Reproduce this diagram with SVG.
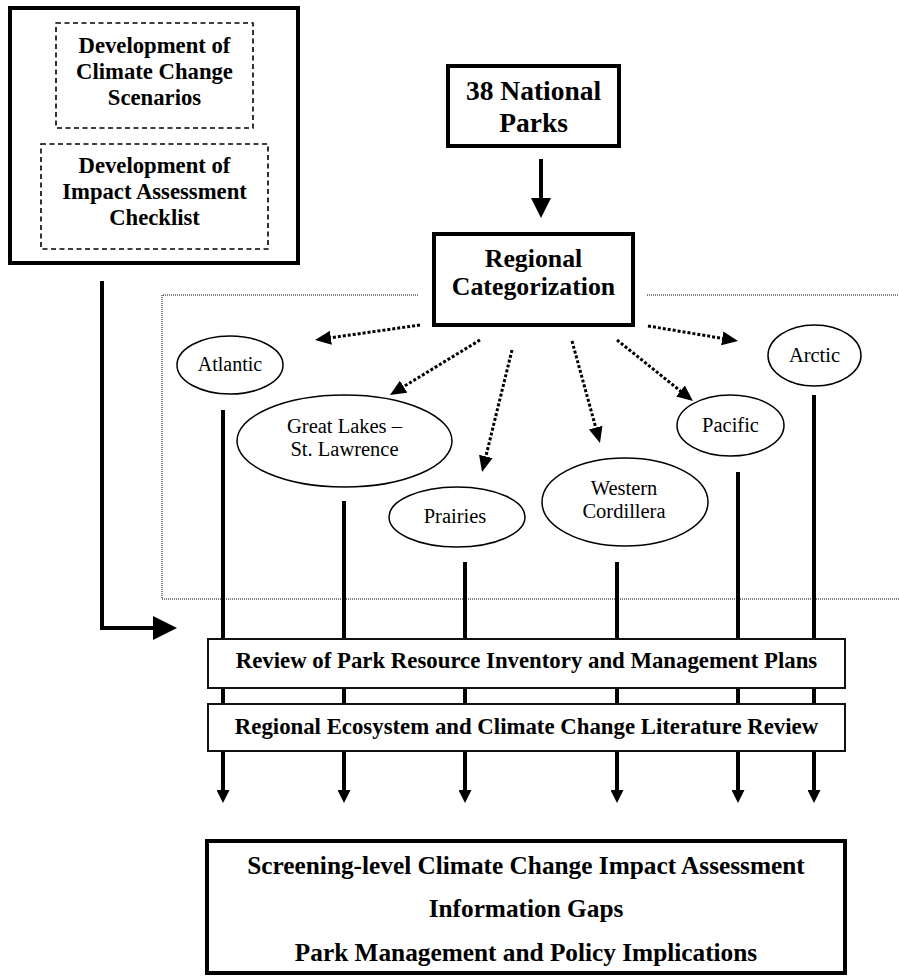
<svg xmlns="http://www.w3.org/2000/svg" width="899" height="976" viewBox="0 0 899 976">
<style>
text{font-family:"Liberation Serif","Times New Roman",serif;fill:#000;text-anchor:middle}
.b{font-weight:bold}
.thick{fill:#fff;stroke:#000;stroke-width:4}
.dash{fill:none;stroke:#000;stroke-width:1.6;stroke-dasharray:5 3.5}
.ell{fill:#fff;stroke:#000;stroke-width:1.5}
.vl{stroke:#000;stroke-width:4;fill:none}
.dot{stroke:#000;stroke-width:3;stroke-dasharray:3 2;fill:none}
.region{stroke:#000;stroke-width:1;stroke-dasharray:1 1;fill:none}
.rev{fill:#fff;stroke:#111;stroke-width:2}
</style>
<defs>
<marker id="ad" markerUnits="userSpaceOnUse" markerWidth="16" markerHeight="14" refX="4" refY="7" orient="auto"><path d="M0,0 L16,7 L0,14 z" fill="#000"/></marker>
<marker id="as" markerUnits="userSpaceOnUse" markerWidth="13" markerHeight="13" refX="0" refY="6.5" orient="auto"><path d="M0,0 L13,6.5 L0,13 z" fill="#000"/></marker>
</defs>
<g id="region-frame">
<polyline class="region" points="418,295 162,295 162,599 899,599"/>
<line class="region" x1="647" y1="295" x2="899" y2="295"/>
</g>
<g id="connectors">
<line class="vl" x1="541" y1="159" x2="541" y2="199"/>
<polygon points="531,198 551,198 541,218" fill="#000"/>
<polyline class="vl" points="102,281 102,628 154,628" stroke-width="4.5"/>
<polygon points="153,616 177,628 153,640" fill="#000"/>
<line class="dot" x1="420" y1="325" x2="326.9" y2="338.3" marker-end="url(#ad)"/>
<line class="dot" x1="480" y1="340" x2="400.2" y2="388.7" marker-end="url(#ad)"/>
<line class="dot" x1="512" y1="350" x2="484.9" y2="460.3" marker-end="url(#ad)"/>
<line class="dot" x1="572" y1="341" x2="596.8" y2="431.4" marker-end="url(#ad)"/>
<line class="dot" x1="617" y1="340" x2="683.6" y2="393.5" marker-end="url(#ad)"/>
<line class="dot" x1="648" y1="326" x2="726.2" y2="339.0" marker-end="url(#ad)"/>
<line class="vl" x1="223" y1="410" x2="223" y2="790" marker-end="url(#as)"/>
<line class="vl" x1="344" y1="501" x2="344" y2="790" marker-end="url(#as)"/>
<line class="vl" x1="465" y1="562" x2="465" y2="790" marker-end="url(#as)"/>
<line class="vl" x1="617" y1="562" x2="617" y2="790" marker-end="url(#as)"/>
<line class="vl" x1="738" y1="472" x2="738" y2="790" marker-end="url(#as)"/>
<line class="vl" x1="814" y1="395" x2="814" y2="790" marker-end="url(#as)"/>
</g>
<g id="method-box">
<rect class="thick" x="10" y="8" width="288" height="255"/>
<g id="scenarios">
<rect class="dash" x="56" y="23" width="197" height="105"/>
<text class="b" font-size="22.7"><tspan x="154.5" y="53">Development of</tspan><tspan x="154.5" y="79">Climate Change</tspan><tspan x="154.5" y="105">Scenarios</tspan></text>
</g>
<g id="checklist">
<rect class="dash" x="41" y="144" width="227" height="105"/>
<text class="b" font-size="22.7"><tspan x="154.5" y="173">Development of</tspan><tspan x="154.5" y="199">Impact Assessment</tspan><tspan x="154.5" y="225">Checklist</tspan></text>
</g>
</g>
<g id="national-parks">
<rect class="thick" x="448" y="66" width="171" height="80"/>
<text class="b" font-size="27.5"><tspan x="533.5" y="100">38 National</tspan><tspan x="533.5" y="132">Parks</tspan></text>
</g>
<g id="regional-categorization">
<rect class="thick" x="434" y="234" width="199" height="91" stroke-width="3.3"/>
<text class="b" font-size="25.8"><tspan x="533.5" y="267">Regional</tspan><tspan x="533.5" y="295">Categorization</tspan></text>
</g>
<g id="atlantic">
<ellipse class="ell" cx="230" cy="365" rx="53" ry="29"/>
<text font-size="20" x="230" y="371">Atlantic</text>
</g>
<g id="great-lakes">
<ellipse class="ell" cx="344.5" cy="441" rx="107.5" ry="46"/>
<text font-size="20.5"><tspan x="344.5" y="433">Great Lakes –</tspan><tspan x="344.5" y="456">St. Lawrence</tspan></text>
</g>
<g id="prairies">
<ellipse class="ell" cx="457" cy="517" rx="68" ry="30"/>
<text font-size="20.5" x="455" y="523">Prairies</text>
</g>
<g id="western-cordillera">
<ellipse class="ell" cx="625" cy="502" rx="83" ry="44"/>
<text font-size="20.5"><tspan x="624" y="495">Western</tspan><tspan x="624" y="518">Cordillera</tspan></text>
</g>
<g id="pacific">
<ellipse class="ell" cx="730.5" cy="425.5" rx="53.5" ry="30.5"/>
<text font-size="20.5" x="730.5" y="432">Pacific</text>
</g>
<g id="arctic">
<ellipse class="ell" cx="814.5" cy="355.5" rx="46.5" ry="30.5"/>
<text font-size="20.5" x="814.5" y="362">Arctic</text>
</g>
<g id="review-inventory">
<rect class="rev" x="208" y="639" width="637" height="49"/>
<text class="b" font-size="22.8" x="526.5" y="668">Review of Park Resource Inventory and Management Plans</text>
</g>
<g id="literature-review">
<rect class="rev" x="208" y="704" width="637" height="47"/>
<text class="b" font-size="22.8" x="526.5" y="734">Regional Ecosystem and Climate Change Literature Review</text>
</g>
<g id="outcomes">
<rect class="thick" x="207" y="841" width="638" height="132"/>
<text class="b" font-size="25.3"><tspan x="526" y="874">Screening-level Climate Change Impact Assessment</tspan><tspan x="526" y="917">Information Gaps</tspan><tspan x="526" y="961">Park Management and Policy Implications</tspan></text>
</g>
</svg>
